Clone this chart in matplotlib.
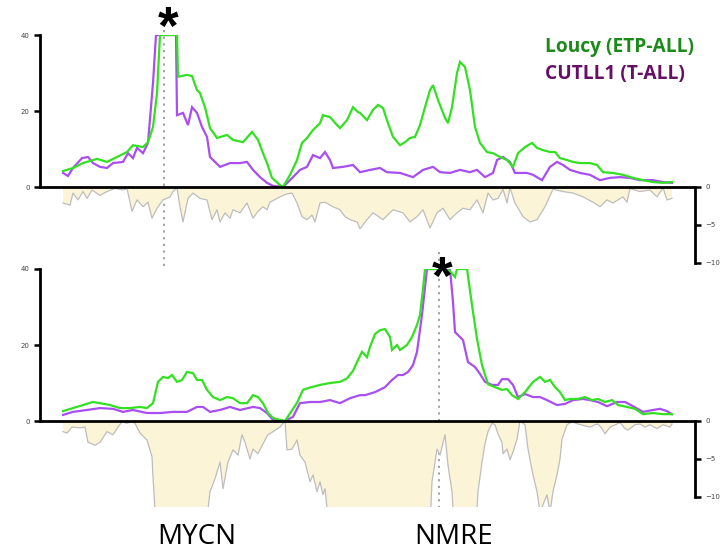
import matplotlib
matplotlib.use("Agg")
from matplotlib import pyplot as plt

# genomic position (kb from window start) and signal for the MYCN window
mycn_loucy_kb = [0, 10, 20, 34, 44, 54, 64, 70, 80, 85,
                 90, 94, 97, 114, 115, 124, 129, 134, 137, 142,
                 147, 154, 164, 170, 180, 189, 195, 200, 204, 209,
                 217, 220, 227, 234, 239, 244, 250, 257, 260, 267,
                 274, 277, 284, 290, 295, 297, 304, 310, 315, 320,
                 325, 330, 337, 342, 347, 352, 357, 362, 367, 370,
                 375, 382, 385, 389, 394, 397, 402, 407, 412, 417,
                 424, 430, 437, 444, 450, 455, 462, 469, 474, 480,
                 487, 492, 497, 504, 510, 517, 527, 534, 540, 550,
                 560, 570, 580, 590, 600, 609]
mycn_loucy = [4.2, 5.0, 6.3, 7.4, 6.6, 7.9, 9.2, 11.0, 10.5, 11.8,
              15.8, 24.7, 40.0, 40.0, 29.0, 29.5, 29.2, 25.5, 24.7, 21.0,
              15.5, 12.9, 13.7, 12.4, 11.8, 14.5, 12.4, 8.9, 6.3, 2.4,
              0.5, 0.0, 3.2, 7.1, 11.6, 12.9, 15.0, 16.8, 18.9, 18.4,
              16.3, 15.5, 17.6, 21.0, 19.7, 19.5, 17.6, 20.3, 21.6, 20.8,
              16.8, 13.2, 11.0, 11.8, 12.9, 13.2, 16.3, 21.0, 25.5, 26.8,
              22.9, 18.2, 16.8, 21.0, 30.0, 32.9, 31.6, 25.5, 15.8, 11.6,
              9.2, 8.9, 7.9, 7.1, 5.3, 8.9, 10.5, 11.6, 10.3, 9.7,
              9.2, 9.2, 7.6, 7.1, 6.6, 6.3, 6.3, 5.8, 3.9, 3.7,
              3.2, 2.4, 1.8, 1.3, 1.1, 1.3]

mycn_cutll1_kb = [0, 5, 10, 19, 25, 30, 37, 44, 50, 60,
                  65, 70, 74, 80, 85, 90, 93, 113, 114, 120,
                  125, 129, 134, 139, 144, 147, 157, 167, 177, 184,
                  190, 197, 204, 210, 220, 227, 237, 244, 250, 257,
                  262, 267, 270, 280, 290, 297, 307, 317, 324, 337,
                  350, 360, 370, 377, 387, 397, 407, 414, 422, 430,
                  434, 440, 447, 452, 464, 470, 479, 487, 494, 500,
                  507, 517, 527, 537, 547, 557, 567, 577, 590, 600,
                  609]
mycn_cutll1 = [3.7, 2.9, 5.0, 7.6, 7.9, 6.3, 5.3, 5.0, 6.3, 6.6,
               8.9, 7.6, 10.3, 8.9, 11.6, 27.4, 40.0, 40.0, 18.9, 19.5,
               16.3, 21.0, 19.5, 15.8, 13.2, 7.9, 5.3, 6.3, 6.3, 6.6,
               4.5, 2.6, 1.1, 0.3, 0.0, 1.8, 4.5, 5.3, 8.4, 7.6,
               9.2, 7.1, 5.0, 5.3, 5.8, 3.9, 4.5, 5.0, 3.9, 3.7,
               2.6, 4.5, 5.3, 3.9, 3.7, 4.5, 3.9, 4.5, 2.6, 3.7,
               7.1, 7.9, 6.6, 3.7, 3.7, 3.2, 1.8, 5.3, 6.6, 5.8,
               4.5, 3.7, 3.2, 1.8, 2.4, 2.6, 2.4, 1.8, 1.8, 1.3,
               1.1]

mycn_cons_kb = [0, 7, 10, 15, 20, 24, 29, 37, 44, 52,
                60, 64, 69, 74, 80, 85, 89, 94, 100, 107,
                110, 114, 117, 120, 125, 130, 137, 144, 149, 154,
                157, 162, 167, 170, 177, 184, 190, 195, 200, 204,
                207, 217, 224, 229, 234, 239, 244, 249, 252, 257,
                262, 270, 277, 282, 287, 294, 297, 304, 310, 320,
                330, 340, 347, 354, 360, 367, 374, 380, 387, 394,
                400, 407, 414, 420, 425, 430, 435, 440, 444, 447,
                452, 460, 467, 474, 482, 490, 500, 510, 520, 530,
                537, 544, 550, 560, 564, 567, 577, 587, 594, 600,
                604, 609]
mycn_cons = [-2.1, -2.4, -0.8, -1.7, -0.6, -1.5, -0.4, -1.1, -0.6, -0.2,
             -0.4, -0.2, -3.2, -1.7, -2.6, -2.0, -4.1, -2.8, -1.7, -1.3,
             -0.6, -0.1, -2.6, -4.6, -1.5, -0.8, -1.5, -1.7, -4.3, -3.0,
             -4.6, -3.4, -4.1, -3.0, -3.4, -2.1, -4.1, -3.2, -2.6, -3.0,
             -2.0, -1.3, -0.9, -0.8, -2.1, -3.9, -4.3, -3.7, -4.6, -2.1,
             -2.0, -2.6, -3.0, -3.9, -4.3, -4.6, -5.5, -4.3, -3.4, -4.3,
             -3.0, -3.4, -4.6, -3.9, -3.0, -5.4, -3.4, -2.8, -4.3, -3.4,
             -2.8, -3.0, -1.7, -3.4, -0.8, -1.7, -1.5, -0.3, -2.1, -0.1,
             -2.1, -3.9, -4.6, -4.3, -2.6, -0.3, -0.6, -0.8, -1.3, -2.0,
             -2.6, -1.7, -2.1, -1.3, -2.0, -0.2, -0.6, -0.4, -1.3, -0.1,
             -1.7, -1.5]

# same layout for the NMRE window
nmre_loucy_kb = [0, 10, 20, 30, 37, 47, 57, 67, 77, 84,
                 90, 95, 100, 105, 109, 114, 119, 124, 130, 134,
                 139, 144, 150, 157, 164, 170, 177, 184, 190, 195,
                 200, 205, 210, 217, 222, 227, 234, 240, 247, 257,
                 267, 277, 284, 290, 294, 299, 304, 307, 312, 317,
                 322, 327, 329, 334, 337, 344, 349, 354, 357, 360,
                 362, 385, 392, 394, 404, 409, 414, 419, 425, 432,
                 439, 444, 449, 455, 462, 470, 477, 482, 487, 492,
                 497, 502, 507, 515, 522, 529, 535, 542, 549, 555,
                 564, 572, 580, 590, 600, 609]
nmre_loucy = [2.6, 3.4, 4.2, 5.0, 4.7, 4.2, 3.4, 3.4, 3.7, 3.4,
              4.7, 10.3, 11.6, 11.3, 12.1, 10.3, 10.8, 12.9, 12.6, 10.8,
              10.8, 8.2, 6.3, 5.5, 6.3, 6.0, 4.7, 4.7, 6.8, 6.3,
              4.7, 2.1, 0.8, 0.3, 0.0, 2.0, 4.8, 8.2, 8.8, 9.5,
              10.0, 10.3, 11.2, 13.2, 15.5, 18.2, 16.8, 19.5, 22.9, 23.9,
              24.2, 22.1, 18.7, 20.0, 18.7, 20.0, 22.1, 25.3, 27.9, 34.7,
              40.0, 40.0, 37.9, 40.0, 40.0, 30.5, 21.6, 14.7, 9.7, 8.9,
              8.2, 8.4, 6.8, 5.8, 7.6, 10.3, 11.6, 10.3, 10.8, 8.9,
              7.6, 5.5, 5.8, 5.8, 6.3, 5.5, 5.8, 5.0, 5.5, 4.2,
              3.7, 3.2, 1.8, 2.1, 1.8, 1.8]

nmre_cutll1_kb = [0, 10, 24, 37, 50, 60, 70, 84, 97, 110,
                  124, 134, 140, 147, 157, 167, 177, 190, 197, 204,
                  210, 222, 230, 237, 247, 257, 267, 277, 287, 297,
                  302, 312, 322, 329, 335, 340, 345, 350, 354, 359,
                  364, 387, 390, 392, 397, 400, 405, 412, 417, 422,
                  429, 435, 439, 445, 450, 455, 462, 470, 477, 484,
                  494, 502, 510, 520, 527, 535, 544, 554, 562, 570,
                  580, 590, 597, 604, 609]
nmre_cutll1 = [1.6, 2.4, 2.9, 3.4, 3.2, 2.4, 2.9, 2.1, 2.1, 2.4,
               2.4, 3.7, 3.7, 2.4, 2.9, 3.7, 2.9, 3.7, 3.4, 2.1,
               0.3, 0.0, 1.1, 4.7, 5.0, 5.0, 5.5, 4.7, 6.0, 6.8,
               6.8, 7.6, 8.9, 10.8, 12.1, 12.1, 12.9, 14.7, 18.2, 27.9,
               40.0, 40.0, 31.3, 23.4, 22.1, 21.3, 15.5, 14.2, 12.4, 10.3,
               9.5, 9.5, 11.0, 11.0, 9.5, 6.3, 7.1, 6.3, 6.3, 5.5,
               4.2, 4.5, 5.5, 5.8, 5.5, 5.0, 3.9, 5.0, 5.0, 3.9,
               2.4, 2.9, 3.2, 2.6, 1.8]

nmre_cons_kb = [0, 4, 9, 17, 22, 25, 32, 37, 44, 50,
                55, 59, 64, 69, 72, 77, 84, 89, 90, 93,
                143, 147, 152, 157, 160, 165, 170, 175, 179, 182,
                187, 190, 195, 200, 205, 210, 217, 222, 224, 229,
                234, 237, 242, 247, 250, 254, 257, 260, 262, 266,
                367, 369, 374, 377, 382, 385, 389, 391, 413, 415,
                419, 422, 425, 429, 432, 435, 439, 440, 444, 447,
                450, 454, 457, 462, 465, 470, 474, 477, 484, 487,
                490, 494, 497, 499, 504, 509, 515, 527, 532, 535,
                539, 542, 547, 554, 557, 562, 565, 572, 577, 582,
                587, 594, 600, 607, 609]
nmre_cons = [-1.4, -1.6, -0.8, -0.9, -0.8, -2.8, -3.2, -2.8, -1.4, -1.8,
             -0.8, -0.1, -0.3, -0.1, -0.3, -1.6, -2.5, -4.7, -7.4, -14.0,
             -14.0, -9.3, -7.6, -5.4, -8.9, -5.4, -3.8, -4.5, -1.8, -2.8,
             -5.0, -3.7, -4.3, -3.0, -1.8, -1.4, -0.8, 0.0, -3.8, -3.7,
             -2.5, -4.5, -5.4, -8.0, -7.1, -9.3, -8.0, -9.7, -8.9, -14.0,
             -14.0, -8.0, -3.7, -4.5, -1.8, -5.8, -9.3, -14.0, -14.0, -9.3,
             -5.4, -3.0, -1.4, -0.3, -0.5, -1.7, -2.8, -4.3, -3.7, -5.1,
             -4.1, -2.4, 0.0, -0.5, -3.7, -7.1, -9.3, -12.0, -9.7, -12.0,
             -9.3, -7.1, -5.0, -2.4, -0.5, -0.1, -0.4, -0.8, -0.5, -0.4,
             -1.0, -1.7, -0.8, -0.4, -0.2, -1.0, -1.2, -0.5, -0.4, -0.8,
             -0.5, -1.0, -0.5, -0.8, -0.4]

mycn_kb = 101
nmre_kb = 376

LOUCY = "#33e022"
CUTLL1 = "#a94ef0"
FILL = "#fcf4d6"


def draw_track(ax, loucy_kb, loucy, cutll1_kb, cutll1, cons_kb, cons):
    ax.set_xlim(-23, 632)
    ax.set_ylim(-22.63, 40)
    axc = ax.twinx()
    axc.set_ylim(-11.32, 20)

    axc.fill_between(cons_kb, cons, 0, facecolor=FILL, edgecolor="none")
    axc.plot(cons_kb, cons, color="#bdbdbd", lw=0.9)
    axc.axhline(0, color="black", lw=2, zorder=5)

    ax.plot(cutll1_kb, cutll1, color=CUTLL1, lw=1.6, solid_joinstyle="miter")
    ax.plot(loucy_kb, loucy, color=LOUCY, lw=1.6, solid_joinstyle="miter")

    for a in (ax, axc):
        a.set_xticks([])
        for side in ("top", "bottom"):
            a.spines[side].set_visible(False)
        a.tick_params(labelsize=5, labelcolor="#444444", width=1.8, length=4)
    ax.spines["right"].set_visible(False)
    ax.spines["left"].set_linewidth(2)
    ax.spines["left"].set_bounds(0, 40)
    ax.set_yticks([0, 20, 40])
    axc.spines["left"].set_visible(False)
    axc.spines["right"].set_linewidth(2)
    axc.spines["right"].set_bounds(-10, 0)
    axc.set_yticks([0, -5, -10])
    return axc


W, H = 724, 552
fig = plt.figure(figsize=(W / 100, H / 100), dpi=100)

ax1 = fig.add_axes([40 / W, 1 - 273 / H, 655 / W, 238 / H])
draw_track(ax1, mycn_loucy_kb, mycn_loucy, mycn_cutll1_kb, mycn_cutll1,
           mycn_cons_kb, mycn_cons)
ax2 = fig.add_axes([40 / W, 1 - 507 / H, 655 / W, 238 / H])
draw_track(ax2, nmre_loucy_kb, nmre_loucy, nmre_cutll1_kb, nmre_cutll1,
           nmre_cons_kb, nmre_cons)

# element positions
ax1.plot([mycn_kb, mycn_kb], [41.3, -22.63], color="#999999", lw=1.3,
         ls=(0, (1.2, 2.5)), clip_on=False, zorder=1)
ax2.plot([nmre_kb, nmre_kb], [44.5, -22.63], color="#999999", lw=1.3,
         ls=(0, (1.2, 2.5)), clip_on=False, zorder=1)
ax1.text(mycn_kb + 4, 42.9, "*", fontsize=38, fontweight="bold",
         family="Liberation Sans", ha="center", va="center_baseline",
         clip_on=False, zorder=10)
ax2.text(nmre_kb + 3, 38.6, "*", fontsize=38, fontweight="bold",
         family="Liberation Sans", ha="center", va="center_baseline",
         clip_on=False, zorder=10)

fig.text(197 / W, 1 - 537 / H, "MYCN", fontsize=20, family="Open Sans",
         ha="center", va="center")
fig.text(454 / W, 1 - 537 / H, "NMRE", fontsize=20, family="Open Sans",
         ha="center", va="center")

fig.text(545 / W, 1 - 47 / H, "Loucy (ETP-ALL)", fontsize=13.8,
         fontweight="bold", family="Open Sans", color="#1b8a1b",
         va="center", ha="left")
fig.text(545 / W, 1 - 74 / H, "CUTLL1 (T-ALL)", fontsize=13.8,
         fontweight="bold", family="Open Sans", color="#650f66",
         va="center", ha="left")

fig.savefig("out.png", dpi=100)
